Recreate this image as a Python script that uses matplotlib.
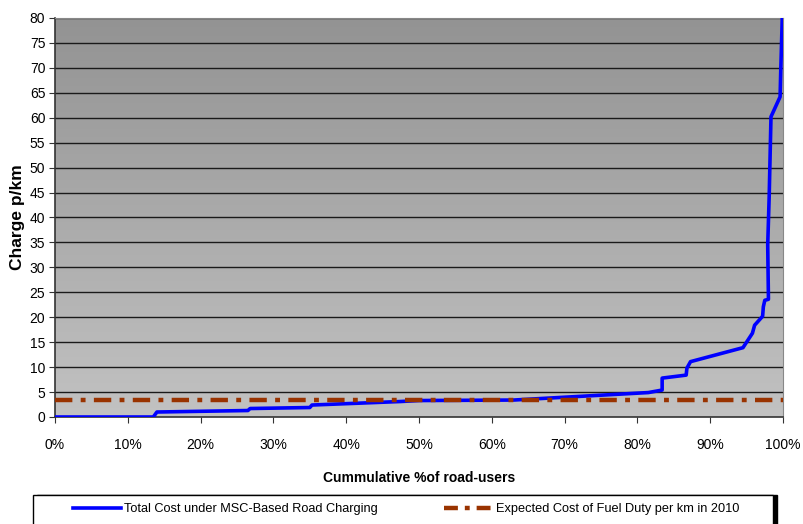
import numpy as np
import matplotlib
matplotlib.use("Agg")
import matplotlib.pyplot as plt
from matplotlib.patches import Rectangle
from matplotlib.lines import Line2D

plt.rcParams['font.family'] = ['Liberation Sans', 'DejaVu Sans']
plt.rcParams['lines.scale_dashes'] = False

# Data
cum_pct = [0, 13.5, 14.0, 26.5, 26.8, 35.0, 35.3, 47.4, 50.0, 63.0, 81.5, 83.4, 83.4,
           86.7, 86.8, 87.3, 94.5, 95.8, 96.1, 97.2, 97.3, 97.5, 98.0, 97.9, 98.1,
           98.35, 99.6, 99.7, 99.9]
msc_charge = [0, 0, 1.0, 1.3, 1.7, 1.9, 2.4, 3.1, 3.3, 3.4, 4.9, 5.4, 7.8,
              8.4, 9.8, 11.1, 13.9, 16.8, 18.4, 20.2, 22.1, 23.4, 23.6, 34.5, 44.1,
              60.2, 64.2, 69.9, 80.0]
fuel_duty = 3.5
series_labels = ["Total Cost under MSC-Based Road Charging",
                 "Expected Cost of Fuel Duty per km in 2010"]
y_ticks = list(range(0, 81, 5))
x_ticks = list(range(0, 101, 10))

fig = plt.figure(figsize=(8.04, 5.24), dpi=100)
ax = fig.add_axes([55/804, 1-417/524, (783-55)/804, (417-18)/524])

# gradient background
grad = np.linspace(0, 1, 256).reshape(-1, 1)
ax.imshow(grad, extent=[0, 1, 0, 1], transform=ax.transAxes, aspect='auto',
          cmap=matplotlib.colors.LinearSegmentedColormap.from_list('g', ['#c2c2c2', '#939393']),
          origin='lower', zorder=0)

for v in y_ticks[1:]:
    ax.axhline(v, color='#1a1a1a', lw=1.0, zorder=1)

l1, = ax.plot(cum_pct, msc_charge, color='#0000ff', lw=2.6, zorder=3, solid_joinstyle='round')
l2, = ax.plot([0, 100], [fuel_duty, fuel_duty], color='#993300', lw=3.2, zorder=4,
              dashes=(12.5, 6, 3.5, 6))

ax.set_xlim(0, 100)
ax.set_ylim(0, 80)
ax.set_yticks(y_ticks)
ax.set_xticks(x_ticks)
ax.set_xticklabels([f"{t}%" for t in x_ticks])
ax.tick_params(axis='both', labelsize=10, direction='out', length=4, color='#333333')
ax.tick_params(axis='x', pad=11)
ax.tick_params(axis='y', pad=3)
for s in ['top', 'right']:
    ax.spines[s].set_color('#888888')
for s in ['left', 'bottom']:
    ax.spines[s].set_color('#333333')
    ax.spines[s].set_linewidth(1.2)

ax.set_ylabel("Charge p/km", fontsize=12.5, fontweight='bold', labelpad=3)
ax.set_xlabel("Cummulative %of road-users", fontsize=10, fontweight='bold', labelpad=14)

# legend box with shadow
fig.patches.append(Rectangle((37/804, -0.02), 740/804, (524-495)/524 + 0.02,
                             transform=fig.transFigure, facecolor='black', edgecolor='black', zorder=1))
fig.patches.append(Rectangle((33/804, -0.02), 740/804, (524-495)/524 + 0.02,
                             transform=fig.transFigure, facecolor='white', edgecolor='black', lw=1, zorder=2))
h1 = Line2D([], [], color='#0000ff', lw=2.6)
h2 = Line2D([], [], color='#993300', lw=3.2, dashes=(10, 5, 3.5, 5))
leg = fig.legend([h1, h2], series_labels, loc='center', bbox_to_anchor=(406/804, 1-509/524),
                 ncol=2, frameon=False, fontsize=9.2, handlelength=3.75, handletextpad=0.25,
                 columnspacing=5.2, borderpad=0, borderaxespad=0)
leg.set_zorder(3)

fig.savefig("out.png", dpi=100)
